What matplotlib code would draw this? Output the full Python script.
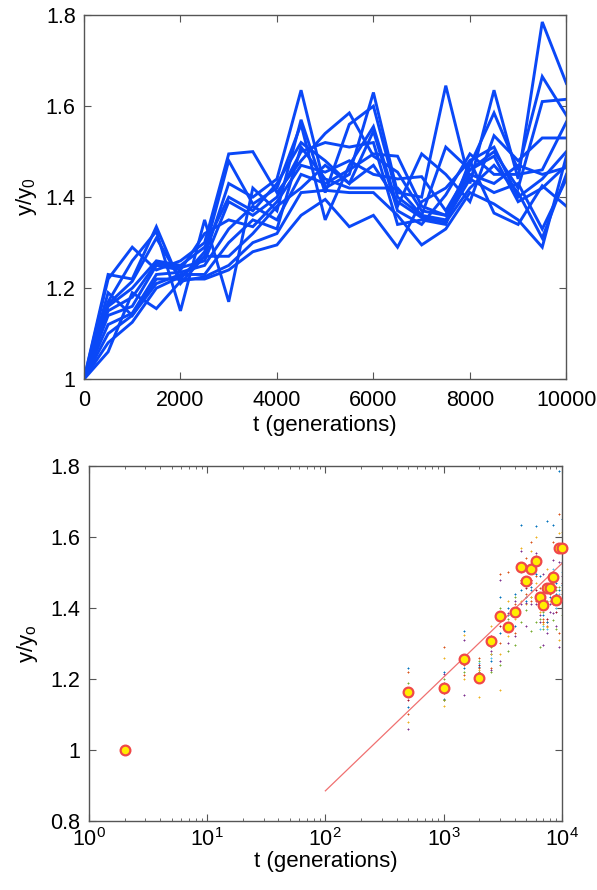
import numpy as np
import matplotlib
matplotlib.use("Agg")
from matplotlib import pyplot as plt
from matplotlib.ticker import FormatStrFormatter, LogLocator, NullFormatter

plt.rcParams['font.family'] = ['Liberation Sans', 'DejaVu Sans']
plt.rcParams['mathtext.fontset'] = 'custom'
plt.rcParams['mathtext.rm'] = 'Liberation Sans'
plt.rcParams['mathtext.it'] = 'Liberation Sans'
plt.rcParams['mathtext.default'] = 'regular'

# generations sampled in the replicate runs
t = np.arange(0, 10001, 500)

# relative fitness y/y0 of each replicate line
rep1 = [1.0, 1.23, 1.22, 1.335, 1.21, 1.27, 1.43, 1.40, 1.44, 1.635, 1.42, 1.45, 1.63, 1.41, 1.40, 1.645, 1.43, 1.635, 1.44, 1.785, 1.65]
rep2 = [1.0, 1.22, 1.29, 1.24, 1.26, 1.30, 1.495, 1.50, 1.41, 1.48, 1.54, 1.585, 1.49, 1.455, 1.37, 1.36, 1.47, 1.585, 1.46, 1.665, 1.58]
rep3 = [1.0, 1.17, 1.26, 1.325, 1.15, 1.35, 1.17, 1.42, 1.37, 1.57, 1.41, 1.56, 1.60, 1.40, 1.36, 1.51, 1.46, 1.50, 1.42, 1.61, 1.615]
rep4 = [1.0, 1.165, 1.215, 1.31, 1.22, 1.28, 1.48, 1.385, 1.42, 1.56, 1.35, 1.47, 1.555, 1.38, 1.495, 1.45, 1.39, 1.535, 1.48, 1.53, 1.53]
rep5 = [1.0, 1.16, 1.20, 1.26, 1.25, 1.29, 1.40, 1.37, 1.43, 1.52, 1.48, 1.43, 1.545, 1.37, 1.34, 1.405, 1.495, 1.45, 1.45, 1.46, 1.565]
rep6 = [1.0, 1.15, 1.18, 1.255, 1.245, 1.26, 1.39, 1.36, 1.40, 1.50, 1.52, 1.51, 1.52, 1.34, 1.35, 1.34, 1.48, 1.51, 1.40, 1.44, 1.50]
rep7 = [1.0, 1.14, 1.16, 1.25, 1.24, 1.32, 1.35, 1.335, 1.39, 1.47, 1.455, 1.48, 1.45, 1.44, 1.445, 1.37, 1.46, 1.49, 1.39, 1.42, 1.47]
rep8 = [1.0, 1.12, 1.145, 1.23, 1.235, 1.25, 1.33, 1.38, 1.35, 1.45, 1.43, 1.46, 1.495, 1.49, 1.38, 1.36, 1.45, 1.43, 1.47, 1.45, 1.465]
rep9 = [1.0, 1.10, 1.14, 1.21, 1.23, 1.23, 1.30, 1.35, 1.33, 1.51, 1.44, 1.42, 1.42, 1.42, 1.36, 1.35, 1.44, 1.41, 1.43, 1.33, 1.44]
rep10 = [1.0, 1.08, 1.125, 1.20, 1.225, 1.27, 1.27, 1.32, 1.38, 1.42, 1.47, 1.43, 1.47, 1.39, 1.355, 1.345, 1.42, 1.47, 1.41, 1.31, 1.45]
rep11 = [1.0, 1.06, 1.19, 1.155, 1.215, 1.225, 1.25, 1.30, 1.32, 1.41, 1.415, 1.41, 1.41, 1.36, 1.295, 1.33, 1.41, 1.385, 1.35, 1.29, 1.49]
rep12 = [1.0, 1.19, 1.14, 1.22, 1.22, 1.22, 1.24, 1.28, 1.295, 1.36, 1.395, 1.335, 1.36, 1.29, 1.39, 1.42, 1.48, 1.365, 1.34, 1.425, 1.38]
reps = [rep1, rep2, rep3, rep4, rep5, rep6, rep7, rep8, rep9, rep10, rep11, rep12]

# averaged points in the log panel (t=0 is drawn at t=2)
t_mean = [2, 500, 1000, 1500, 2000, 2500, 3000, 3500, 4000, 4500, 5000,
          5500, 6000, 6500, 7000, 7500, 8000, 8500, 9000, 9500, 10000]
y_mean = [1.0, 1.162, 1.175, 1.256, 1.202, 1.306, 1.376, 1.346, 1.388, 1.516, 1.477,
          1.51, 1.531, 1.431, 1.409, 1.455, 1.455, 1.488, 1.423, 1.568, 1.568]

# log fit y = a + b*log10(t), drawn from t=100 to 1e4
fit_a = 0.245
fit_b = 0.32
fit_t = [100, 10000]

matlab_cols = ['#0072BD', '#D95319', '#EDB120', '#7E2F8E', '#77AC30', '#4DBEEE', '#A2142F']
line_blue = '#0a48f7'
spine_col = '#555555'
fs_tick = 15.5
fs_lab = 16

fig = plt.figure(figsize=(5.97, 8.90), dpi=100)
ax1 = fig.add_axes([0.1407, 0.574, 0.808, 0.409])
ax2 = fig.add_axes([0.149, 0.0775, 0.792, 0.399])

def style(ax):
    for s in ax.spines.values():
        s.set_color(spine_col)
        s.set_linewidth(1.0)
    ax.tick_params(direction='in', top=True, right=True, length=5, width=0.8,
                   color=spine_col, labelsize=fs_tick)
    ax.tick_params(axis='x', pad=8)
    ax.tick_params(axis='y', pad=6)
    ax.tick_params(which='minor', direction='in', top=True, right=True, length=2.5,
                   width=0.6, color=spine_col)

# top panel: replicate trajectories
for r in reps:
    ax1.plot(t, r, color=line_blue, lw=2.1, solid_joinstyle='miter')
ax1.set_xlim(0, 10000)
ax1.set_ylim(1.0, 1.8)
ax1.set_xticks(np.arange(0, 10001, 2000))
ax1.set_yticks([1.0, 1.2, 1.4, 1.6, 1.8])
ax1.yaxis.set_major_formatter(FormatStrFormatter('%g'))
ax1.set_xlabel('t (generations)', fontsize=fs_lab, labelpad=3)
ax1.set_ylabel('y/y$_0$', fontsize=fs_lab, labelpad=5)
style(ax1)

# bottom panel: log time axis
for i, r in enumerate(reps):
    ax2.plot(t[1:], r[1:], ls='none', marker='+', ms=2.0, mew=0.7,
             color=matlab_cols[i % len(matlab_cols)])
ft = np.array(fit_t, dtype=float)
ax2.plot(ft, fit_a + fit_b * np.log10(ft), color='#f07070', lw=0.9)
ax2.plot(t_mean, y_mean, ls='none', marker='o', ms=7, mfc='#ffee00',
         mec='#f04848', mew=1.6, clip_on=False, zorder=5)
ax2.set_xscale('log')
ax2.set_xlim(1, 1e4)
ax2.set_ylim(0.8, 1.8)
ax2.set_yticks([0.8, 1.0, 1.2, 1.4, 1.6, 1.8])
ax2.yaxis.set_major_formatter(FormatStrFormatter('%g'))
ax2.xaxis.set_major_locator(LogLocator(base=10, numticks=10))
ax2.xaxis.set_minor_locator(LogLocator(base=10, subs=np.arange(2, 10), numticks=20))
ax2.xaxis.set_minor_formatter(NullFormatter())
ax2.set_xlabel('t (generations)', fontsize=fs_lab, labelpad=0)
ax2.set_ylabel('y/y$_o$', fontsize=fs_lab, labelpad=8)
style(ax2)
ax2.tick_params(axis='x', pad=5)

fig.savefig('out.png', dpi=100)
